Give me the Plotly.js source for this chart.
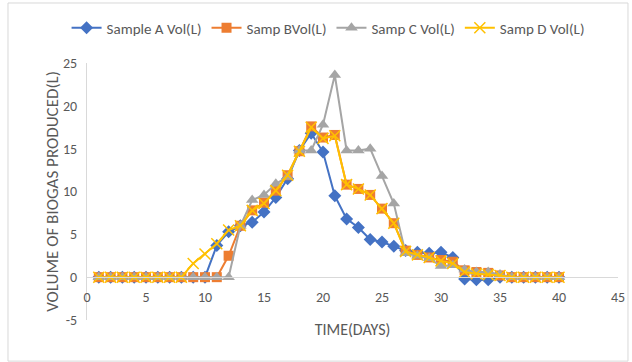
<!DOCTYPE html>
<html>
<head>
<meta charset="utf-8">
<script src="https://cdn.plot.ly/plotly-3.0.1.min.js"></script>
<style>html,body{margin:0;padding:0;background:#fff;}#chart{width:632px;height:362px;}</style>
</head>
<body>
<div id="chart"></div>
<script>
var days = [1,2,3,4,5,6,7,8,9,10,11,12,13,14,15,16,17,18,19,20,21,22,23,24,25,26,27,28,29,30,31,32,33,34,35,36,37,38,39,40];
var sampleA = [0,0,0,0,0,0,0,0,0,0,3.7,5.3,6.0,6.4,7.6,9.3,11.5,14.8,16.8,14.6,9.5,6.8,5.8,4.4,4.1,3.6,3.1,2.9,2.8,2.9,2.3,-0.2,-0.3,-0.3,0,0,0,0,0,0];
var sampleB = [0,0,0,0,0,0,0,0,0,0,0,2.5,6.0,7.8,8.7,10.1,11.9,14.7,17.6,16.3,16.6,10.8,10.3,9.6,8.0,6.3,3.1,2.6,2.3,2.0,1.8,0.8,0.6,0.5,0.2,0,0,0,0,0];
var sampleC = [0,0,0,0,0,0,0,0,0,0,0,0,6.0,9.0,9.6,10.9,11.7,14.8,14.8,17.8,23.6,14.8,14.8,15.0,11.8,8.6,2.8,2.5,2.2,1.3,1.4,0.9,0.6,0.6,0.3,0,0,0,0,0];
var sampleD = [0,0,0,0,0,0,0,0,1.6,2.7,3.9,5.5,6.0,7.8,8.6,10.1,11.9,14.7,17.5,16.2,16.5,10.8,10.3,9.6,8.0,6.3,3.0,2.6,2.3,1.9,1.6,0.6,0.4,0.3,0.2,0,0,0,0,0];
var names = ['Sample A Vol(L)', 'Samp BVol(L)', 'Samp C Vol(L)', 'Samp D Vol(L)'];
var xTicks = [0,5,10,15,20,25,30,35,40,45];
var yTicks = [-5,0,5,10,15,20,25];

var FONT = 'Calibri, Carlito, "Liberation Sans Narrow", "Open Sans", sans-serif';
var traces = [
  {x: days, y: sampleA, name: names[0], mode: 'lines+markers',
   line: {color: '#4472C4', width: 2}, marker: {symbol: 'diamond', size: 10, color: '#4472C4'}},
  {x: days, y: sampleB, name: names[1], mode: 'lines+markers',
   line: {color: '#ED7D31', width: 2}, marker: {symbol: 'square', size: 10, color: '#ED7D31'}},
  {x: days, y: sampleC, name: names[2], mode: 'lines+markers',
   line: {color: '#A5A5A5', width: 2}, marker: {symbol: 'triangle-up', size: 11, color: '#A5A5A5'}},
  {x: days, y: sampleD, name: names[3], mode: 'lines+markers',
   line: {color: '#FFC000', width: 2}, marker: {symbol: 'x-thin-open', size: 11, color: '#FFC000', line: {color: '#FFC000', width: 1.5}}}
];
var layout = {
  width: 632, height: 362,
  margin: {l: 87, r: 14, t: 63, b: 42},
  paper_bgcolor: '#fff', plot_bgcolor: '#fff',
  font: {family: FONT, size: 14, color: '#595959'},
  showlegend: true,
  legend: {orientation: 'h', x: 0.454, xanchor: 'center', y: 1.136, yanchor: 'middle',
           font: {family: FONT, size: 15, color: '#595959'}, traceorder: 'normal'},
  xaxis: {range: [0, 45], tickvals: xTicks, ticktext: xTicks.map(String), showgrid: false, zeroline: false,
          showline: true, linecolor: '#D9D9D9', linewidth: 1, ticks: '',
          anchor: 'free', position: 5/30, ticklabelstandoff: 7,
          tickfont: {family: FONT, size: 14, color: '#595959'},
          title: {text: 'TIME(DAYS)', font: {family: FONT, size: 16, color: '#595959'}, standoff: 18}},
  yaxis: {range: [-5, 25], tickvals: yTicks, ticktext: yTicks.map(String), showgrid: false, zeroline: false,
          showline: true, linecolor: '#D9D9D9', linewidth: 1, ticks: '', ticklabelstandoff: 6,
          tickfont: {family: FONT, size: 14, color: '#595959'},
          title: {text: 'VOLUME OF BIOGAS PRODUCED(L)', font: {family: FONT, size: 17, color: '#595959'}, standoff: 0}},
  shapes: [{type: 'rect', xref: 'paper', yref: 'paper', x0: -0.1488, x1: 1.0188, y0: -0.16, y1: 1.2335,
            line: {color: '#D9D9D9', width: 1}, fillcolor: 'rgba(0,0,0,0)', layer: 'below'}],
  hovermode: false
};
Plotly.newPlot('chart', traces, layout, {staticPlot: true, displayModeBar: false});
</script>
</body>
</html>
